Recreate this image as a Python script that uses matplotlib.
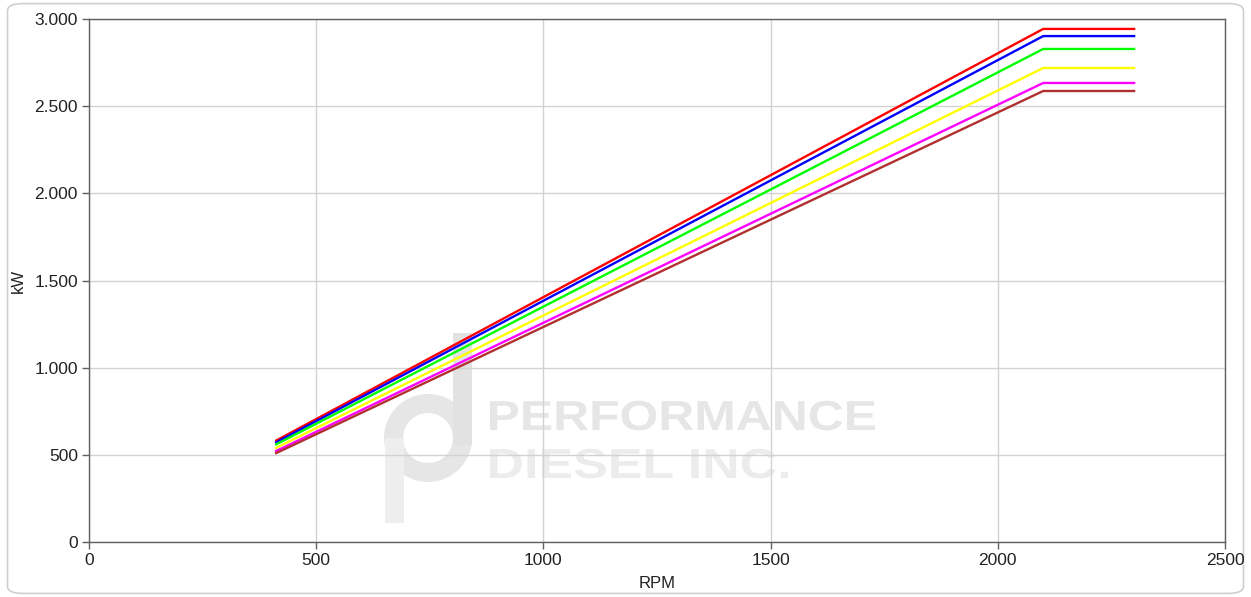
import matplotlib
matplotlib.use("Agg")
import matplotlib.pyplot as plt
from matplotlib.ticker import FuncFormatter
from matplotlib.patches import FancyBboxPatch, Annulus, Rectangle, PathPatch
from matplotlib.textpath import TextPath
from matplotlib.font_manager import FontProperties
from matplotlib.transforms import Affine2D, IdentityTransform

plt.rcParams['font.family'] = ['Liberation Sans', 'DejaVu Sans']

# ---- data ----
rpm = [412, 2100, 2300]
kw_red = [582, 2943, 2943]
kw_blue = [572, 2902, 2902]
kw_green = [560, 2828, 2828]
kw_yellow = [540, 2719, 2719]
kw_magenta = [522, 2633, 2633]
kw_brown = [510, 2587, 2587]

series = [
    (kw_red, '#ff0000'),
    (kw_blue, '#0000ff'),
    (kw_green, '#00ff00'),
    (kw_yellow, '#ffff00'),
    (kw_magenta, '#ff00ff'),
    (kw_brown, '#b03030'),
]

x_ticks = [0, 500, 1000, 1500, 2000, 2500]
y_ticks = [0, 500, 1000, 1500, 2000, 2500, 3000]

W, H = 1251, 597
fig = plt.figure(figsize=(W / 100, H / 100), dpi=100)

# rounded outer frame
frame = FancyBboxPatch((0.006, 0.006), 0.988, 0.988, boxstyle="round,pad=0,rounding_size=0.012",
                       transform=fig.transFigure, facecolor='none', edgecolor='#cfcfcf',
                       linewidth=1.2, zorder=-1)
fig.patches.append(frame)

ax = fig.add_axes([0.0711, 0.0921, 0.9081, 0.8761])
ax.set_facecolor('none')

# ---- watermark (pixel coordinates, y from bottom), behind the grid ----
pix = IdentityTransform()
ax.add_patch(Annulus((428, H - 438), 44, 19, transform=pix, facecolor='#e6e6e6',
                     edgecolor='none', zorder=0.1))
ax.add_patch(Rectangle((453, H - 445), 19, 112, transform=pix, facecolor='#e2e2e2',
                       edgecolor='none', zorder=0.1))
ax.add_patch(Rectangle((385, H - 523), 19, 85, transform=pix, facecolor='#eeeeee',
                       edgecolor='none', zorder=0.1))

fp = FontProperties(family='Liberation Sans', weight='bold')


def stretched_text(s, x0, base, cap_h, width, color):
    tp = TextPath((0, 0), s, size=100, prop=fp)
    ext = tp.get_extents()
    sy = cap_h / 71.6
    sx = width / ext.width
    tr = Affine2D().translate(-ext.x0, 0).scale(sx, sy).translate(x0, base) + pix
    ax.add_patch(PathPatch(tp, transform=tr, facecolor=color, edgecolor='none', zorder=0.1))


stretched_text('PERFORMANCE', 490, H - 430, 30, 385, '#e6e6e6')
stretched_text('DIESEL INC.', 490, H - 478, 30, 298, '#ececec')

for vals, col in series:
    ax.plot(rpm, vals, color=col, linewidth=1.7, zorder=3)

ax.set_xlim(0, 2500)
ax.set_ylim(0, 3000)
ax.set_xticks(x_ticks)
ax.set_yticks(y_ticks)
ax.yaxis.set_major_formatter(FuncFormatter(lambda v, p: f"{int(v):,}".replace(",", ".")))
ax.grid(True, color='#d2d2d2', linewidth=1, zorder=0.5)
ax.set_axisbelow(True)

for s in ax.spines.values():
    s.set_color('#606060')
    s.set_linewidth(1)

ax.tick_params(axis='both', direction='out', length=5, width=1, color='#606060',
               labelsize=12.5, labelcolor='#222222', pad=3)

ax.set_xlabel('RPM', fontsize=12, color='#222222', labelpad=6)
ax.set_ylabel('kW', fontsize=12, color='#222222', labelpad=6)

fig.savefig('out.png', dpi=100)
